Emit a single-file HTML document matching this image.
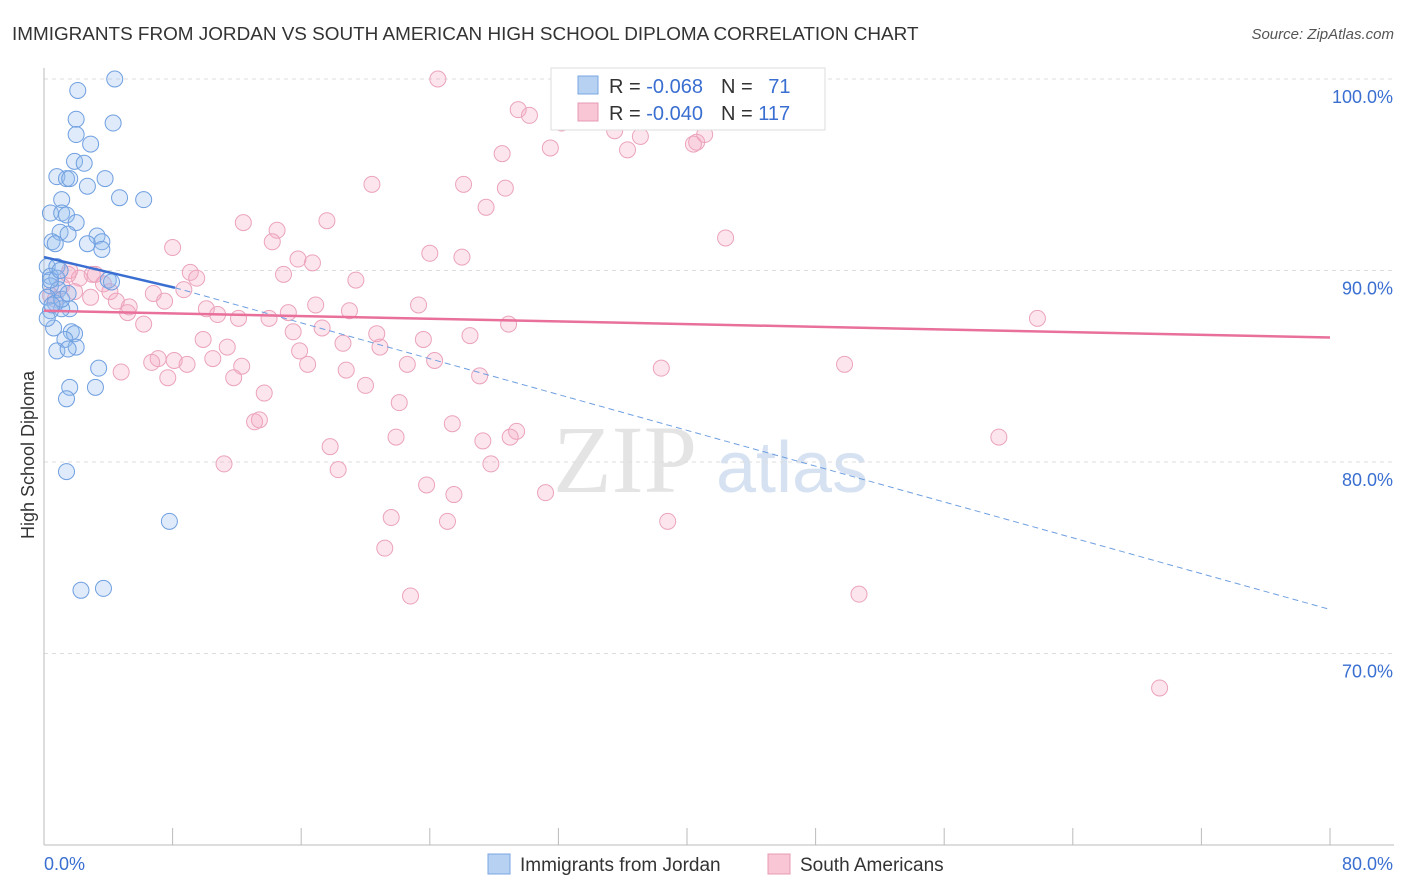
<!DOCTYPE html>
<html><head><meta charset="utf-8"><style>
body{margin:0;background:#fff;font-family:"Liberation Sans",sans-serif}
</style></head><body>
<svg id="chart" width="1406" height="892" style="display:block">
<text x="12" y="40" font-size="18.9" fill="#333">IMMIGRANTS FROM JORDAN VS SOUTH AMERICAN HIGH SCHOOL DIPLOMA CORRELATION CHART</text>
<text x="1394" y="39" font-size="15" fill="#555" font-style="italic" text-anchor="end">Source: ZipAtlas.com</text>
<text x="0" y="0" transform="translate(34,455) rotate(-90)" font-size="18" fill="#333" text-anchor="middle">High School Diploma</text>
<text x="553" y="492" font-size="96" fill="#e4e4e4" font-family="Liberation Serif,serif">ZIP</text>
<text x="716" y="492" font-size="72" fill="#d6e2f2">atlas</text>
<g id="grid"></g><g id="axes"></g><g id="pink"></g><g id="blue"></g><g id="trend"></g>
<g>
<rect x="551" y="68" width="274" height="62" fill="#fff" stroke="#ddd"/>
<rect x="578" y="76" width="20" height="18" fill="#b7d1f3" stroke="#7aa6e0"/>
<rect x="578" y="103" width="20" height="18" fill="#f8c6d5" stroke="#e99ab4"/>
<text x="609" y="93" font-size="20" fill="#333">R = <tspan fill="#3a6fd1">-0.068</tspan><tspan dx="18">N = </tspan><tspan fill="#3a6fd1" dx="10">71</tspan></text>
<text x="609" y="120" font-size="20" fill="#333">R = <tspan fill="#3a6fd1">-0.040</tspan><tspan dx="18">N = </tspan><tspan fill="#3a6fd1">117</tspan></text>
</g>
<g>
<rect x="488" y="854" width="22" height="20" fill="#b7d1f3" stroke="#7aa6e0"/>
<text x="520" y="871" font-size="19" fill="#333">Immigrants from Jordan</text>
<rect x="768" y="854" width="22" height="20" fill="#f8c6d5" stroke="#e99ab4"/>
<text x="800" y="871" font-size="19" fill="#333">South Americans</text>
</g>
</svg>
<script>
const xTickVals=[8,16,24,32,40,48,56,64,72,80];
const yTickVals=[70,80,90,100];
const yTickLabels=["70.0%","80.0%","90.0%","100.0%"];
const blueX=[4.4,2.1,4.3,2.0,2.0,2.9,1.9,2.5,0.8,1.4,1.6,3.8,2.7,4.7,6.2,1.1,0.4,1.1,1.4,2.0,1.0,1.5,0.5,0.7,3.3,2.7,3.6,3.6,0.2,0.8,0.4,0.8,4.0,4.2,0.4,0.9,0.2,0.7,1.6,1.1,0.4,0.6,1.7,1.9,1.3,2.0,0.8,1.5,3.4,1.6,3.2,1.4,1.4,7.8,2.3,3.7,0.4,1.0,1.1,1.5,0.5,0.2];
const blueY=[100,99.4,97.7,97.9,97.1,96.6,95.7,95.6,94.9,94.8,94.8,94.8,94.4,93.8,93.7,93.7,93.0,93.0,92.9,92.5,92.0,91.9,91.5,91.4,91.8,91.4,91.5,91.1,90.2,90.2,89.7,89.6,89.5,89.4,89.2,89.0,88.6,88.3,88.0,88.0,87.9,87.0,86.8,86.7,86.4,86.0,85.8,85.9,84.9,83.9,83.9,83.3,79.5,76.9,73.3,73.4,89.5,90.0,88.5,88.8,88.2,87.5];
const pinkX=[24.5,32.5,39.0,29.5,30.2,32.2,35.5,37.1,36.3,31.5,28.5,40.6,41.1,40.4,20.4,26.1,28.7,27.5,12.4,17.6,14.5,14.2,8.0,42.4,24.0,26.0,15.8,16.7,9.1,9.5,14.9,19.4,3.2,2.2,1.5,1.1,1.9,2.9,3.7,4.1,6.8,7.5,8.7,4.5,5.2,5.3,6.2,10.1,10.8,12.1,14.0,15.2,16.9,19.0,23.3,28.9,61.8,15.5,17.3,20.7,23.6,26.5,18.6,20.9,9.9,11.4,15.9,16.4,7.1,8.1,6.7,8.9,10.5,12.3,22.6,24.3,4.8,7.7,11.8,18.8,27.1,38.4,49.8,13.7,20.0,22.1,13.1,13.4,25.4,29.4,17.8,21.9,27.3,29.0,59.4,11.2,18.3,27.8,23.8,25.5,31.2,21.6,25.1,38.8,21.2,22.8,50.7,69.4,0.4,0.7,1.6,3.0];
const pinkY=[100,100,100,98.4,98.1,97.7,97.3,97.0,96.3,96.4,96.1,96.7,97.1,96.6,94.5,94.5,94.3,93.3,92.5,92.6,92.1,91.5,91.2,91.7,90.9,90.7,90.6,90.4,89.9,89.6,89.8,89.5,89.8,89.6,89.8,89.2,88.9,88.6,89.3,88.9,88.8,88.4,89.0,88.4,87.8,88.1,87.2,88.0,87.7,87.5,87.5,87.8,88.2,87.9,88.2,87.2,87.5,86.8,87.0,86.7,86.4,86.6,86.2,86.0,86.4,86.0,85.8,85.1,85.4,85.3,85.2,85.1,85.4,85.0,85.1,85.3,84.7,84.4,84.4,84.8,84.5,84.9,85.1,83.6,84.0,83.1,82.1,82.2,82.0,81.6,80.8,81.3,81.1,81.3,81.3,79.9,79.6,79.9,78.8,78.3,78.4,77.1,76.9,76.9,75.5,73.0,73.1,68.2,88.7,88.5,90.0,89.8];
const blueTrend=[0,90.7,8.15,89.1,80,72.3];
const pinkTrend=[0,87.9,80,86.5];
const NS="http://www.w3.org/2000/svg";
const X=v=>44+v/80*1286, Y=v=>79+(100-v)*19.15;
function mk(t,a,p){const e=document.createElementNS(NS,t);for(const k in a)e.setAttribute(k,a[k]);document.getElementById(p).appendChild(e);return e;}
yTickVals.forEach((v,i)=>{
 const l=mk('line',{x1:44,x2:1394,y1:Y(v),y2:Y(v),stroke:'#ddd','stroke-dasharray':'4,4'},'grid');
 
 
 const t=mk('text',{x:1393,y:Y(v)+24,'font-size':18,fill:'#3a6fd1','text-anchor':'end'},'grid');t.textContent=yTickLabels[i];
 
 
});
mk('line',{x1:44,x2:44,y1:68,y2:845,stroke:'#bbb'},'axes');
mk('line',{x1:44,x2:1394,y1:845,y2:845,stroke:'#bbb'},'axes');
xTickVals.forEach(v=>{const l=mk('line',{x1:X(v),x2:X(v),y1:828,y2:845,stroke:'#bbb'},'axes');
 
 });
let t0=mk('text',{x:44,y:870,'font-size':18,fill:'#3a6fd1'},'axes');t0.textContent='0.0%';
let t1=mk('text',{x:1393,y:870,'font-size':18,fill:'#3a6fd1','text-anchor':'end'},'axes');t1.textContent='80.0%';
pinkX.forEach((x,i)=>{const c=mk('circle',{cx:X(x),cy:Y(pinkY[i]),r:8,fill:'rgba(244,170,195,0.3)',stroke:'#eba3bc','stroke-width':1},'pink');
 
 });
blueX.forEach((x,i)=>{const c=mk('circle',{cx:X(x),cy:Y(blueY[i]),r:8,fill:'rgba(150,190,240,0.3)',stroke:'#6f9fe0','stroke-width':1},'blue');
 
 });
let a=mk('line',{x1:X(blueTrend[0]),y1:Y(blueTrend[1]),x2:X(blueTrend[2]),y2:Y(blueTrend[3]),stroke:'#3a6fd1','stroke-width':2.5},'trend');


let b=mk('line',{x1:X(blueTrend[2]),y1:Y(blueTrend[3]),x2:X(blueTrend[4]),y2:Y(blueTrend[5]),stroke:'#6f9fe0','stroke-width':1,'stroke-dasharray':'6,4'},'trend');


let c=mk('line',{x1:X(pinkTrend[0]),y1:Y(pinkTrend[1]),x2:X(pinkTrend[2]),y2:Y(pinkTrend[3]),stroke:'#e8709a','stroke-width':2.5},'trend');


</script>
</body></html>
